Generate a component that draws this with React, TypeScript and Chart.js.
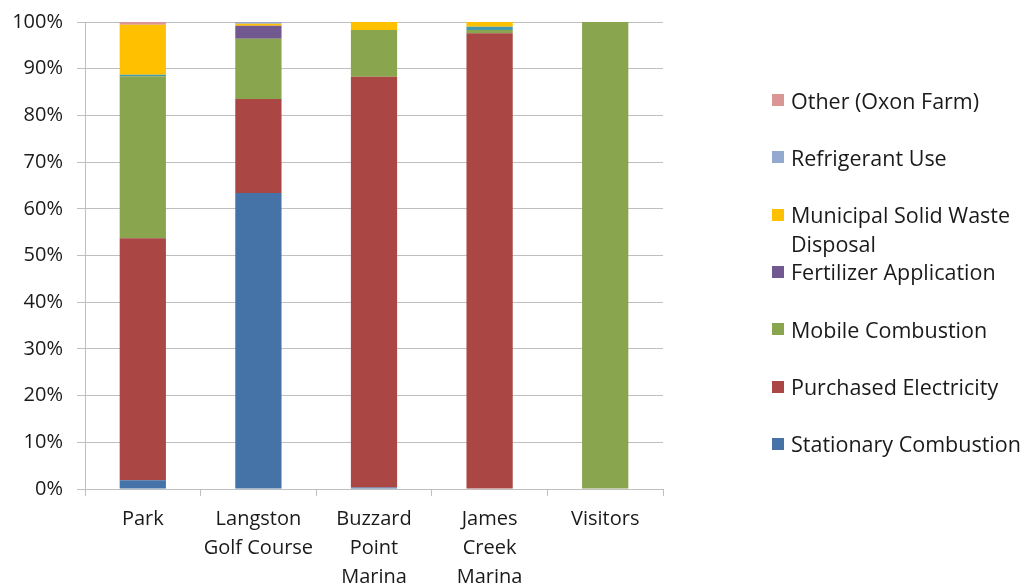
import React, { useEffect, useRef } from "react";
import { Chart, registerables } from "chart.js";

Chart.register(...registerables);

const categories: string[][] = [
  ["Park"],
  ["Langston", "Golf Course"],
  ["Buzzard", "Point", "Marina"],
  ["James", "Creek", "Marina"],
  ["Visitors"],
];

const stationaryCombustion = [1.9, 63.4, 0.3, 0, 0];
const purchasedElectricity = [51.8, 20.1, 88.0, 97.6, 0];
const mobileCombustion = [34.7, 12.9, 10.0, 0.7, 100];
const fertilizerApplication = [0, 2.8, 0, 0, 0];
const unlistedSource = [0.3, 0, 0, 0.7, 0];
const municipalSolidWaste = [10.7, 0.4, 1.7, 1.0, 0];
const refrigerantUse = [0, 0.4, 0, 0, 0];
const otherOxonFarm = [0.6, 0, 0, 0, 0];

const yTicks = [0, 10, 20, 30, 40, 50, 60, 70, 80, 90, 100];

const series = [
  { label: "Stationary Combustion", data: stationaryCombustion, color: "#4572A7", legend: true },
  { label: "Purchased Electricity", data: purchasedElectricity, color: "#AA4643", legend: true },
  { label: "Mobile Combustion", data: mobileCombustion, color: "#89A54E", legend: true },
  { label: "Fertilizer Application", data: fertilizerApplication, color: "#71588F", legend: true },
  { label: "", data: unlistedSource, color: "#4198AF", legend: false },
  { label: "Municipal Solid Waste Disposal", data: municipalSolidWaste, color: "#FFC000", legend: true },
  { label: "Refrigerant Use", data: refrigerantUse, color: "#93A9CF", legend: true },
  { label: "Other (Oxon Farm)", data: otherOxonFarm, color: "#D99694", legend: true },
];

const FONT = "'Open Sans', 'Liberation Sans', sans-serif";
const TEXT = "#1a1a1a";
const GRID = "#BFBFBF";

export default function App() {
  const ref = useRef<HTMLCanvasElement | null>(null);

  useEffect(() => {
    if (!ref.current) return;
    const chart = new Chart(ref.current, {
      type: "bar",
      data: {
        labels: categories,
        datasets: series.map((s) => ({
          label: s.label,
          data: s.data,
          backgroundColor: s.color,
          borderWidth: 0,
          barPercentage: 0.4,
          categoryPercentage: 1,
        })),
      },
      options: {
        animation: false,
        responsive: true,
        maintainAspectRatio: false,
        layout: { padding: { top: 18, right: 363, left: 0, bottom: 0 } },
        plugins: {
          legend: { display: false },
          tooltip: { enabled: false },
          title: { display: false },
        },
        scales: {
          x: {
            stacked: true,
            offset: true,
            grid: {
              display: true,
              drawOnChartArea: false,
              drawTicks: true,
              tickLength: 7,
              color: GRID,
              offset: true,
            },
            border: { display: true, color: GRID },
            ticks: {
              color: TEXT,
              padding: 9,
              maxRotation: 0,
              autoSkip: false,
              font: { family: FONT, size: 20, lineHeight: 1.45 },
            },
            afterFit: (scale: any) => {
              scale.height = 94;
            },
          },
          y: {
            stacked: true,
            min: 0,
            max: 100,
            afterBuildTicks: (scale: any) => {
              scale.ticks = yTicks.map((v) => ({ value: v }));
            },
            grid: {
              color: GRID,
              tickLength: 8,
              drawTicks: true,
            },
            border: { display: true, color: GRID },
            ticks: {
              color: TEXT,
              padding: 14,
              font: { family: FONT, size: 20 },
              callback: (v: any) => `${v}%`,
            },
            afterFit: (scale: any) => {
              scale.width = 85;
            },
          },
        },
      },
    });
    return () => chart.destroy();
  }, []);

  const legendItems = series.filter((s) => s.legend).slice().reverse();

  return (
    <div
      style={{
        position: "fixed",
        left: 0,
        top: 0,
        width: 1026,
        height: 583,
        background: "#fff",
        overflow: "hidden",
      }}
    >
      <div style={{ position: "absolute", left: 0, top: -4, width: 1026, height: 587 }}>
        <canvas ref={ref} />
      </div>
      {legendItems.map((s, i) => {
        const cy = 100 + i * 57.3;
        return (
          <div key={s.label}>
            <div
              style={{
                position: "absolute",
                left: 772,
                top: cy - 6,
                width: 12,
                height: 12,
                background: s.color,
              }}
            />
            <div
              style={{
                position: "absolute",
                left: 791,
                top: cy - 14.5,
                width: 236,
                fontFamily: FONT,
                fontSize: 21.5,
                lineHeight: "29px",
                color: TEXT,
              }}
            >
              {s.label}
            </div>
          </div>
        );
      })}
    </div>
  );
}
